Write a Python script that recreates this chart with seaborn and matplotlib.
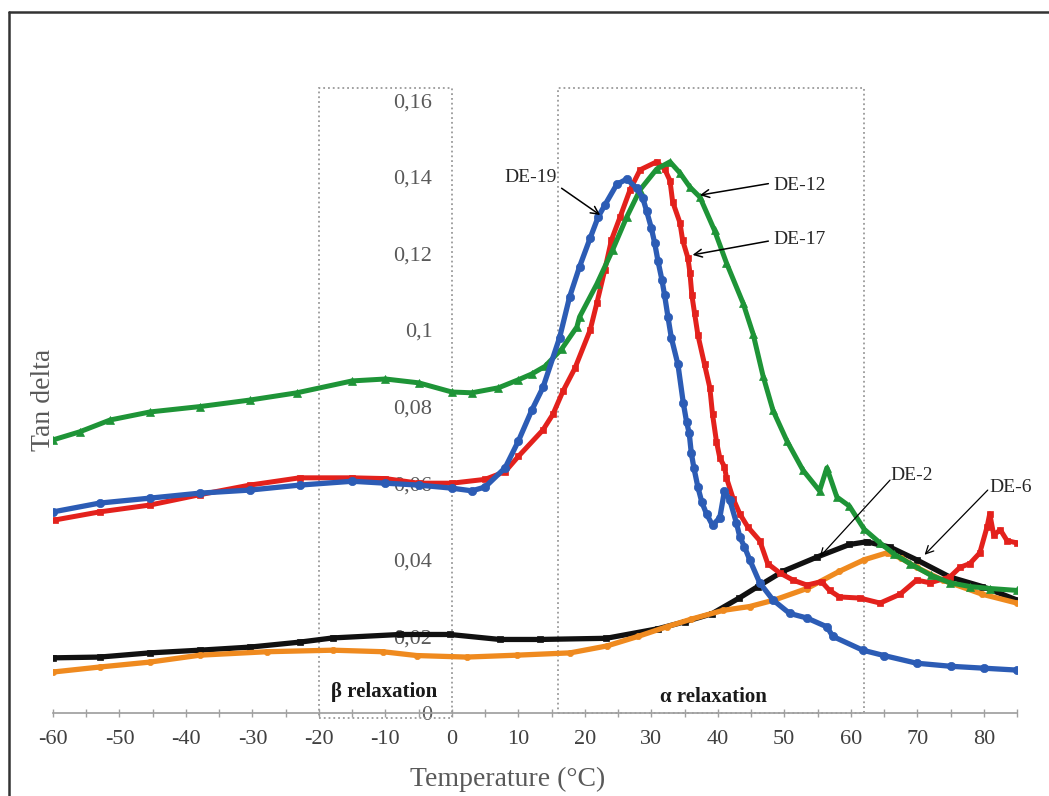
import numpy as np
import matplotlib
matplotlib.use("Agg")
import matplotlib.pyplot as plt
from matplotlib.lines import Line2D
from matplotlib.patches import Rectangle
import seaborn as sns
import pandas as pd

# --- data (temperature in °C, tan delta) ---
de12_t = [-60, -56, -51.4, -45.4, -37.9, -30.4, -23.3, -15, -10, -5, 0, 3, 7, 10, 12, 14,
          16.5, 18.8, 19.2, 21.8, 24.2, 26.3, 28.3, 30.8, 32.8, 34.3, 35.8, 37.3, 39.5, 41.3,
          43.8, 45.3, 46.8, 48.3, 50.4, 52.8, 55.3, 56.4, 57.9, 59.8, 62, 64.4, 66.5, 68.9,
          72, 74.9, 78, 81, 85]
de12_v = [0.0713, 0.0734, 0.0765, 0.0786, 0.0800, 0.0817, 0.0836, 0.0867, 0.0872, 0.0862,
          0.0838, 0.0836, 0.0849, 0.0870, 0.0885, 0.0905, 0.0950, 0.1008, 0.1034, 0.1120,
          0.1210, 0.1295, 0.1366, 0.1420, 0.1439, 0.1410, 0.1373, 0.1347, 0.1260, 0.1175,
          0.1070, 0.0990, 0.0880, 0.0790, 0.0710, 0.0634, 0.0580, 0.0640, 0.0564, 0.0540,
          0.0480, 0.0444, 0.0415, 0.0390, 0.0360, 0.0340, 0.0330, 0.0325, 0.0320]

de17_t = [-59.7, -53, -45.4, -37.9, -30.4, -22.9, -15, -10, -5, 0, 5, 8, 10, 13.7, 15.2,
          16.7, 18.5, 20.8, 21.8, 23, 24, 25.3, 26.8, 28.3, 30.8, 32, 32.8, 33.2, 34.3, 34.7,
          35.5, 35.8, 36.1, 36.5, 37, 38, 38.8, 39.2, 39.8, 40.3, 41, 41.3, 42.3, 43.3, 44.5,
          46.3, 47.5, 49.3, 51.3, 53.4, 55.6, 56.8, 58.3, 61.4, 64.4, 67.4, 69.9, 71.9, 74.9,
          76.4, 77.9, 79.4, 80.5, 80.9, 81.5, 82.5, 83.5, 85]
de17_v = [0.0504, 0.0525, 0.0543, 0.0570, 0.0595, 0.0614, 0.0614, 0.0612, 0.0600, 0.0600,
          0.0610, 0.0630, 0.0670, 0.0739, 0.0780, 0.0840, 0.0900, 0.1000, 0.1070, 0.1157,
          0.1235, 0.1295, 0.1366, 0.1418, 0.1439, 0.1420, 0.1390, 0.1335, 0.1280, 0.1235,
          0.1188, 0.1150, 0.1090, 0.1044, 0.0987, 0.0910, 0.0849, 0.0780, 0.0708, 0.0666,
          0.0643, 0.0614, 0.0560, 0.0520, 0.0486, 0.0450, 0.0390, 0.0366, 0.0347, 0.0334,
          0.0343, 0.0320, 0.0303, 0.0300, 0.0287, 0.0310, 0.0347, 0.0340, 0.0355, 0.0380,
          0.0390, 0.0418, 0.0486, 0.0520, 0.0465, 0.0478, 0.0450, 0.0444]

de19_t = [-60, -53, -45.4, -37.9, -30.4, -22.9, -15, -10, -5, 0, 3, 5, 8, 10, 12, 13.7,
          16.2, 17.7, 19.2, 20.8, 22, 23, 24.8, 26.3, 27.8, 28.7, 29.3, 30, 30.5, 31, 31.6,
          32, 32.5, 33, 34, 34.8, 35.3, 35.7, 36, 36.4, 37, 37.6, 38.3, 39.2, 40.3, 41, 41.8,
          42.8, 43.3, 44, 44.8, 46.3, 48.3, 50.8, 53.4, 56.4, 57.3, 61.8, 65, 69.9, 75, 80, 85]
de19_v = [0.0525, 0.0548, 0.0561, 0.0574, 0.0582, 0.0595, 0.0605, 0.0600, 0.0595, 0.0587,
          0.0580, 0.0590, 0.0640, 0.0710, 0.0790, 0.0850, 0.0980, 0.1086, 0.1165, 0.1240,
          0.1295, 0.1326, 0.1380, 0.1394, 0.1370, 0.1345, 0.1310, 0.1266, 0.1227, 0.1180,
          0.1130, 0.1090, 0.1034, 0.0980, 0.0910, 0.0810, 0.0760, 0.0730, 0.0680, 0.0640,
          0.0590, 0.0550, 0.0520, 0.0490, 0.0510, 0.0580, 0.0556, 0.0496, 0.0460, 0.0434,
          0.0400, 0.0340, 0.0295, 0.0260, 0.0248, 0.0225, 0.0200, 0.0164, 0.0150, 0.0130,
          0.0122, 0.0117, 0.0112]

de2_t = [-60, -53, -45.4, -37.9, -30.4, -22.9, -17.9, -7.8, -0.3, 7.2, 13.2, 23.2, 31, 35,
         39.1, 43.2, 46, 49.8, 54.9, 59.8, 62.4, 65.9, 69.9, 74.9, 79.8, 85]
de2_v = [0.0144, 0.0146, 0.0157, 0.0164, 0.0172, 0.0185, 0.0196, 0.0205, 0.0205, 0.0192,
         0.0192, 0.0195, 0.0220, 0.0238, 0.0259, 0.0300, 0.0330, 0.0370, 0.0407, 0.0440,
         0.0447, 0.0433, 0.0400, 0.0355, 0.0330, 0.0295]

de6_t = [-60, -53, -45.4, -37.9, -27.8, -17.9, -10.4, -5.3, 2.2, 9.8, 17.8, 23.3, 28, 32.3,
         36, 40.8, 44.8, 48.5, 53.4, 58.3, 62, 65.4, 67.5, 69.9, 73.8, 79.8, 85]
de6_v = [0.0107, 0.0120, 0.0133, 0.0151, 0.0160, 0.0164, 0.0160, 0.0150, 0.0146, 0.0151,
         0.0157, 0.0175, 0.0200, 0.0225, 0.0245, 0.0268, 0.0278, 0.0295, 0.0325, 0.0370,
         0.0400, 0.0418, 0.0405, 0.0380, 0.0347, 0.0310, 0.0287]

y_ticks = [0, 0.02, 0.04, 0.06, 0.08, 0.1, 0.12, 0.14, 0.16]
y_tick_labels = ["0", "0,02", "0,04", "0,06", "0,08", "0,1", "0,12", "0,14", "0,16"]
x_ticks = list(range(-60, 81, 10))

sns.set_theme(style="white")
plt.rcParams["font.family"] = ["Liberation Serif", "DejaVu Serif"]

fig = plt.figure(figsize=(10.49, 7.96), dpi=100)
ax = fig.add_axes([53 / 1049, 83 / 796, 964 / 1049, 632 / 796])

series = [
    (de2_t, de2_v, "#111111", "s", 4.5, 3.8),
    (de6_t, de6_v, "#ef8a1f", "o", 4.5, 3.8),
    (de17_t, de17_v, "#e3211c", "s", 5.0, 3.6),
    (de12_t, de12_v, "#1e9437", "^", 6.0, 3.6),
    (de19_t, de19_v, "#2c5cb5", "o", 6.0, 3.8),
]
for t, v, col, mk, ms, lw in series:
    df = pd.DataFrame({"T": t, "tan": v})
    sns.lineplot(data=df, x="T", y="tan", ax=ax, sort=False, color=col, linewidth=lw,
                 marker=mk, markersize=ms, markeredgecolor=col, markeredgewidth=0.5)

# relaxation boxes
box_kw = dict(fill=False, linestyle=":", edgecolor="#9a9a9a", linewidth=1.3, clip_on=False)
ax.add_patch(Rectangle((-20, -0.0013), 20, 0.1645, **box_kw))
ax.add_patch(Rectangle((16, 0), 46, 0.1632, **box_kw))
ax.text(-10.2, 0.0055, "\u03b2 relaxation", ha="center", va="center", fontsize=15,
        fontweight="bold", color="#1a1a1a")
ax.text(39.3, 0.0042, "\u03b1 relaxation", ha="center", va="center", fontsize=15,
        fontweight="bold", color="#1a1a1a")

# series labels with arrows
arrow = dict(arrowstyle="->", color="black", lw=1.1, shrinkA=0, shrinkB=0, mutation_scale=14)
ax.text(11.9, 0.1397, "DE-19", ha="center", va="center", fontsize=14)
ax.annotate("", xy=(22.3, 0.1300), xytext=(16.5, 0.1370), arrowprops=arrow)
ax.text(48.3, 0.1376, "DE-12", ha="left", va="center", fontsize=14)
ax.annotate("", xy=(37.3, 0.1352), xytext=(47.6, 0.1382), arrowprops=arrow)
ax.text(48.3, 0.1235, "DE-17", ha="left", va="center", fontsize=14)
ax.annotate("", xy=(36.2, 0.1196), xytext=(47.6, 0.1232), arrowprops=arrow)
ax.text(65.9, 0.0621, "DE-2", ha="left", va="center", fontsize=14)
ax.annotate("", xy=(55.3, 0.0407), xytext=(65.9, 0.0608), arrowprops=dict(arrow, lw=0.9))
ax.text(80.9, 0.0590, "DE-6", ha="left", va="center", fontsize=14)
ax.annotate("", xy=(71.1, 0.0413), xytext=(80.6, 0.0582), arrowprops=dict(arrow, lw=0.9))

# axes styling (Excel-like: value axis crossing at 0)
ax.set_xlim(-60, 85)
ax.set_ylim(0, 0.165)
ax.spines["left"].set_position(("data", 0))
ax.spines["left"].set_color("none")
ax.spines["bottom"].set_position(("data", 0))
ax.spines["bottom"].set_color("#a0a0a0")
ax.spines["right"].set_visible(False)
ax.spines["top"].set_visible(False)

ax.set_xticks(x_ticks)
ax.set_xticklabels([str(v) for v in x_ticks])
ax.set_xticks(np.arange(-55, 86, 10), minor=True)
ax.tick_params(axis="x", which="both", direction="inout", length=6, width=1,
               color="#a0a0a0", bottom=True, labelsize=16, labelcolor="#404040", pad=9)
ax.set_yticks(y_ticks)
ax.set_yticklabels(y_tick_labels)
ax.tick_params(axis="y", length=0, labelsize=16, labelcolor="#595959", pad=14)

ax.set_xlabel("Temperature (\u00b0C)", fontsize=20, color="#595959")
ax.xaxis.set_label_coords(0.472, -0.085)
ax.set_ylabel("Tan delta", fontsize=20, color="#595959", va="center")
ax.yaxis.set_label_coords(-0.010, 0.495)

# outer chart border (left and top edges visible in the crop)
fig.add_artist(Line2D([9 / 1049, 9 / 1049], [0, 1 - 12 / 796], color="#333333", lw=1.8))
fig.add_artist(Line2D([9 / 1049, 1], [1 - 12 / 796, 1 - 12 / 796], color="#333333", lw=1.8))

fig.savefig("out.png", dpi=100, facecolor="white")
